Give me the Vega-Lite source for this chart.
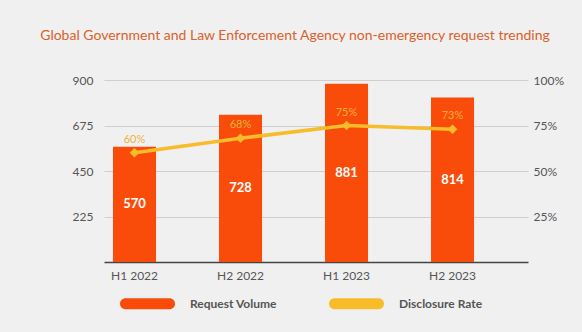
{
  "$schema": "https://vega.github.io/schema/vega-lite/v6.json",
  "width": 424,
  "height": 182,
  "autosize": "none",
  "padding": {"left": 104, "top": 80, "right": 54, "bottom": 70},
  "background": "#F0F0F0",
  "title": {
    "text": "Global Government and Law Enforcement Agency non-emergency request trending",
    "fontSize": 14,
    "fontWeight": "normal",
    "color": "#D9622B",
    "anchor": "middle",
    "dx": -21,
    "offset": 31
  },
  "data": {
    "values": [
      {"Period": "H1 2022", "Volume": 570, "Rate": 0.60},
      {"Period": "H2 2022", "Volume": 728, "Rate": 0.68},
      {"Period": "H1 2023", "Volume": 881, "Rate": 0.75},
      {"Period": "H2 2023", "Volume": 814, "Rate": 0.73}
    ]
  },
  "encoding": {
    "x": {
      "field": "Period",
      "type": "nominal",
      "sort": null,
      "scale": {"paddingInner": 0.594, "paddingOuter": 0.297, "align": 0.143},
      "axis": {
        "title": null,
        "labelAngle": 0,
        "domainColor": "#444444",
        "domainWidth": 1.5,
        "ticks": false,
        "labelPadding": 8,
        "labelFontSize": 12,
        "labelColor": "#555555",
        "grid": false
      }
    }
  },
  "layer": [
    {
      "mark": {"type": "bar"},
      "encoding": {
        "y": {
          "field": "Volume",
          "type": "quantitative",
          "scale": {"domain": [0, 900], "nice": false},
          "axis": {
            "title": null,
            "values": [225, 450, 675, 900],
            "grid": true,
            "gridColor": "#CFCFCF",
            "domain": false,
            "ticks": false,
            "labelPadding": 11,
            "labelFontSize": 12,
            "labelColor": "#555555"
          }
        },
        "color": {
          "datum": "Request Volume",
          "scale": {"domain": ["Request Volume", "Disclosure Rate"], "range": ["#F94C0B", "#F7BC2A"]},
          "legend": {
            "title": null,
            "orient": "none",
            "legendX": 16,
            "legendY": 196,
            "direction": "horizontal",
            "symbolType": "M-0.8,-0.2H0.8A0.2,0.2 0 0 1 0.8,0.2H-0.8A0.2,0.2 0 0 1 -0.8,-0.2Z",
            "symbolSize": 3025,
            "symbolStrokeWidth": 0,
            "symbolOpacity": 1,
            "labelOffset": 15,
            "labelFontSize": 12,
            "labelFontWeight": "bold",
            "labelColor": "#555555",
            "columnPadding": 52
          }
        }
      }
    },
    {
      "mark": {"type": "text", "color": "white", "fontWeight": "bold", "fontSize": 13, "baseline": "middle"},
      "encoding": {
        "y": {"field": "Volume", "type": "quantitative", "scale": {"domain": [0, 1800], "nice": false}, "axis": null},
        "text": {"field": "Volume", "type": "quantitative"}
      }
    },
    {
      "mark": {
        "type": "line",
        "strokeWidth": 3.5,
        "point": {"shape": "diamond", "size": 90, "filled": true, "color": "#F7BC2A"}
      },
      "encoding": {
        "y": {
          "field": "Rate",
          "type": "quantitative",
          "scale": {"domain": [0, 1], "nice": false},
          "axis": {
            "orient": "right",
            "title": null,
            "format": ".0%",
            "values": [0.25, 0.5, 0.75, 1],
            "grid": false,
            "domain": false,
            "ticks": false,
            "labelPadding": 5,
            "labelFontSize": 12,
            "labelColor": "#555555"
          }
        },
        "color": {"datum": "Disclosure Rate"}
      }
    },
    {
      "mark": {"type": "text", "color": "#F2B13A", "fontSize": 11, "dy": -13},
      "encoding": {
        "y": {"field": "Rate", "type": "quantitative", "scale": {"domain": [0, 1], "nice": false}, "axis": null},
        "text": {"field": "Rate", "type": "quantitative", "format": ".0%"}
      }
    }
  ],
  "resolve": {"scale": {"y": "independent"}},
  "config": {
    "view": {"stroke": null},
    "font": "Lato"
  }
}
